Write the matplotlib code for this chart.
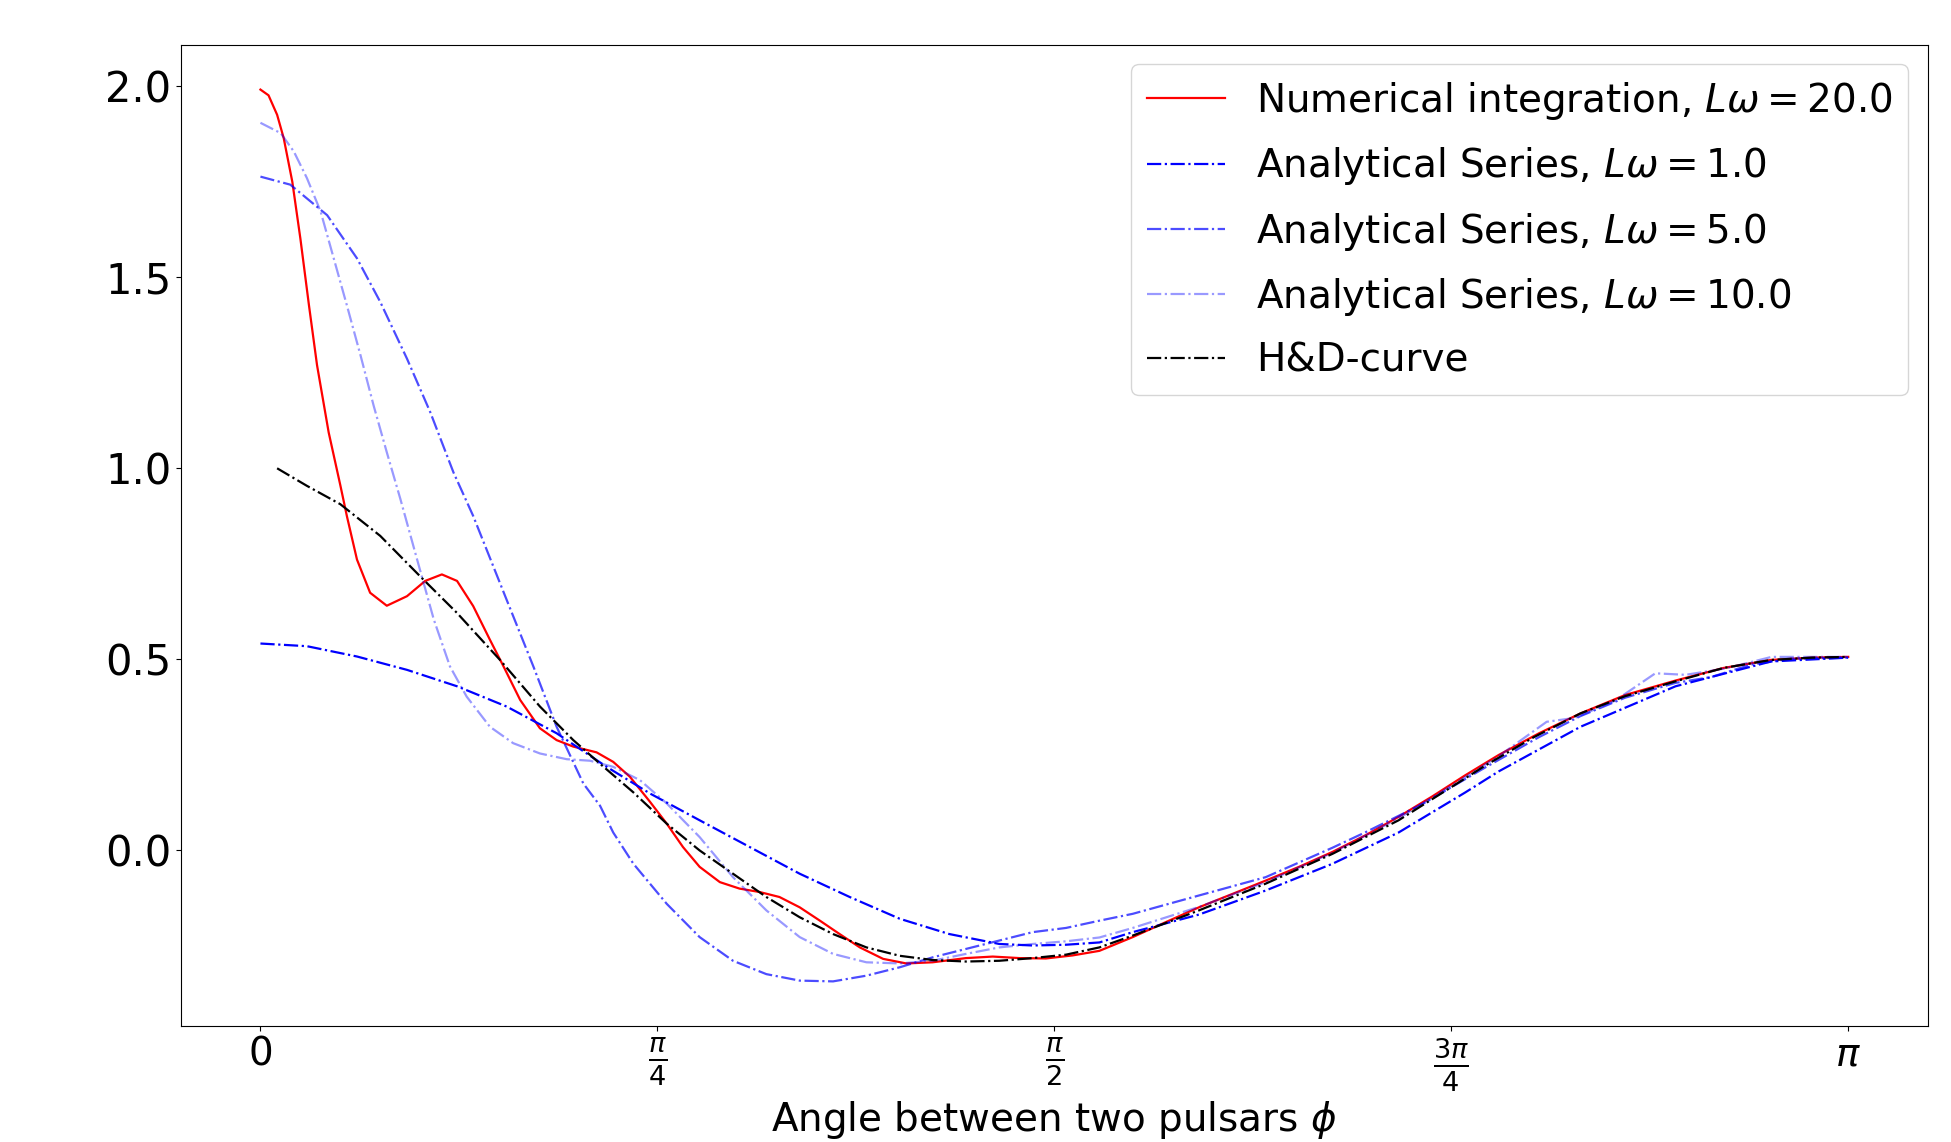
import matplotlib
matplotlib.use('Agg')
import matplotlib.pyplot as plt
import numpy as np

# angle phi (rad) and correlation values
num_x = [0.000, 0.016, 0.033, 0.046, 0.063, 0.079, 0.096, 0.112, 0.135, 0.158,
         0.171, 0.191, 0.217, 0.250, 0.290, 0.326, 0.359, 0.389, 0.421, 0.454,
         0.481, 0.514, 0.553, 0.586, 0.619, 0.665, 0.698, 0.731, 0.771, 0.804,
         0.836, 0.869, 0.909, 0.948, 0.988, 1.027, 1.067, 1.107, 1.146, 1.186,
         1.232, 1.278, 1.330, 1.396, 1.449, 1.502, 1.554, 1.607, 1.660, 1.726,
         1.791, 1.857, 1.923, 1.989, 2.055, 2.121, 2.187, 2.252, 2.318, 2.384,
         2.450, 2.530, 2.612, 2.700, 2.800, 2.895, 2.989, 3.070, 3.1416]
num_y = [1.991, 1.976, 1.925, 1.864, 1.750, 1.601, 1.426, 1.269, 1.093, 0.955,
         0.874, 0.760, 0.673, 0.639, 0.664, 0.704, 0.721, 0.704, 0.638, 0.550,
         0.480, 0.392, 0.318, 0.287, 0.270, 0.255, 0.230, 0.191, 0.125, 0.068,
         0.007, -0.045, -0.085, -0.102, -0.111, -0.124, -0.151, -0.186, -0.221, -0.256,
         -0.286, -0.298, -0.295, -0.284, -0.280, -0.284, -0.285, -0.277, -0.265, -0.229,
         -0.190, -0.151, -0.116, -0.081, -0.045, -0.006, 0.038, 0.086, 0.139, 0.195,
         0.248, 0.305, 0.357, 0.405, 0.443, 0.476, 0.497, 0.503, 0.505]

s1_x = [0.000, 0.092, 0.191, 0.290, 0.389, 0.487, 0.586, 0.685, 0.771, 0.869,
        0.968, 1.067, 1.166, 1.265, 1.363, 1.462, 1.528, 1.594, 1.660, 1.726,
        1.857, 1.989, 2.121, 2.252, 2.384, 2.450, 2.612, 2.800, 2.989, 3.1416]
s1_y = [0.540, 0.533, 0.506, 0.471, 0.428, 0.375, 0.305, 0.217, 0.147, 0.077,
        0.007, -0.063, -0.124, -0.181, -0.221, -0.247, -0.251, -0.249, -0.243, -0.216,
        -0.170, -0.107, -0.037, 0.045, 0.150, 0.205, 0.322, 0.428, 0.493, 0.503]

s5_x = [0.000, 0.059, 0.132, 0.191, 0.237, 0.290, 0.336, 0.382, 0.421, 0.487,
        0.540, 0.586, 0.639, 0.672, 0.698, 0.738, 0.804, 0.869, 0.935, 1.001,
        1.067, 1.133, 1.199, 1.265, 1.330, 1.396, 1.462, 1.528, 1.594, 1.660,
        1.726, 1.857, 1.989, 2.121, 2.187, 2.300, 2.423, 2.530, 2.612, 2.700,
        2.800, 2.870, 2.950, 3.030, 3.1416]
s5_y = [1.763, 1.742, 1.662, 1.549, 1.435, 1.286, 1.146, 0.988, 0.874, 0.655,
        0.480, 0.322, 0.173, 0.115, 0.045, -0.037, -0.142, -0.229, -0.291, -0.326,
        -0.343, -0.345, -0.330, -0.308, -0.282, -0.260, -0.238, -0.216, -0.205, -0.186,
        -0.168, -0.120, -0.072, 0.005, 0.046, 0.120, 0.215, 0.295, 0.350, 0.398,
        0.437, 0.452, 0.485, 0.500, 0.503]

s10_x = [0.000, 0.040, 0.066, 0.092, 0.119, 0.145, 0.171, 0.198, 0.224, 0.250,
         0.277, 0.310, 0.343, 0.375, 0.408, 0.454, 0.500, 0.553, 0.606, 0.652,
         0.698, 0.751, 0.804, 0.869, 0.935, 1.001, 1.067, 1.133, 1.199, 1.265,
         1.330, 1.396, 1.462, 1.528, 1.594, 1.660, 1.726, 1.857, 1.989, 2.121,
         2.252, 2.384, 2.450, 2.545, 2.600, 2.680, 2.760, 2.820, 2.900, 2.990,
         3.060, 3.1416]
s10_y = [1.904, 1.877, 1.829, 1.759, 1.672, 1.549, 1.426, 1.295, 1.163, 1.041,
         0.918, 0.760, 0.603, 0.480, 0.401, 0.322, 0.279, 0.252, 0.237, 0.233,
         0.217, 0.182, 0.121, 0.033, -0.072, -0.159, -0.229, -0.273, -0.295, -0.298,
         -0.291, -0.273, -0.256, -0.247, -0.240, -0.230, -0.205, -0.150, -0.085, -0.008,
         0.082, 0.190, 0.245, 0.335, 0.345, 0.390, 0.462, 0.458, 0.475, 0.505,
         0.505, 0.505]

hd_x = [0.033, 0.092, 0.158, 0.237, 0.319, 0.389, 0.474, 0.553, 0.619, 0.672,
        0.738, 0.804, 0.869, 0.935, 1.001, 1.067, 1.133, 1.199, 1.265, 1.330,
        1.396, 1.462, 1.528, 1.594, 1.660, 1.726, 1.857, 1.989, 2.121, 2.252,
        2.384, 2.423, 2.520, 2.612, 2.700, 2.800, 2.895, 2.989, 3.070, 3.1416]
hd_y = [0.999, 0.953, 0.905, 0.822, 0.712, 0.620, 0.497, 0.375, 0.287, 0.225,
        0.150, 0.068, -0.002, -0.063, -0.124, -0.177, -0.221, -0.256, -0.278, -0.289,
        -0.293, -0.291, -0.284, -0.275, -0.256, -0.225, -0.159, -0.089, -0.011, 0.077,
        0.187, 0.220, 0.295, 0.357, 0.402, 0.441, 0.476, 0.497, 0.503, 0.505]

tick_pos = [0, np.pi / 4, np.pi / 2, 3 * np.pi / 4, np.pi]
tick_labels = ['0', r'$\frac{\pi}{4}$', r'$\frac{\pi}{2}$', r'$\frac{3\pi}{4}$', r'$\pi$']

FS = 28

fig = plt.figure(figsize=(19.51, 11.42), dpi=100)
ax = fig.add_axes([0.0928, 0.1016, 0.988 - 0.0928, 0.9606 - 0.1016])

ax.plot(num_x, num_y, color='red', lw=1.6, label=r'Numerical integration, $L\omega = 20.0$')
ax.plot(s1_x, s1_y, '-.', color='blue', lw=1.6, label=r'Analytical Series, $L\omega = 1.0$')
ax.plot(s5_x, s5_y, '-.', color='blue', alpha=0.7, lw=1.6, label=r'Analytical Series, $L\omega = 5.0$')
ax.plot(s10_x, s10_y, '-.', color='blue', alpha=0.4, lw=1.6, label=r'Analytical Series, $L\omega = 10.0$')
ax.plot(hd_x, hd_y, '-.', color='black', lw=1.6, label='H&D-curve')

ax.set_xticks(tick_pos)
ax.set_xticklabels(tick_labels)
ax.set_yticks([0.0, 0.5, 1.0, 1.5, 2.0])
ax.tick_params(axis='x', labelsize=28)
ax.tick_params(axis='y', labelsize=30)
ax.set_xlabel(r'Angle between two pulsars $\phi$', fontsize=FS, labelpad=4)
ax.legend(loc='upper right', fontsize=FS, labelspacing=0.6)

fig.savefig('out.png', dpi=100)
